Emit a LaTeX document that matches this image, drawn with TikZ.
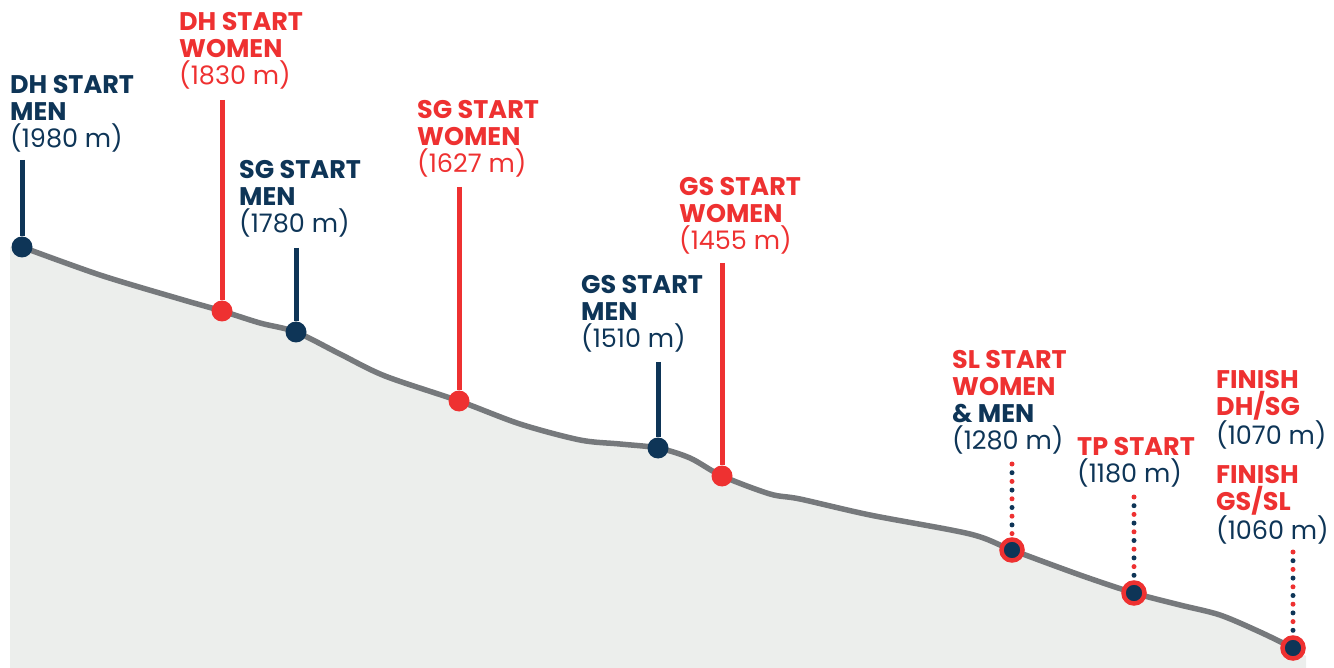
\documentclass[tikz,border=0pt]{standalone}
\usepackage{fontspec}
\setmainfont{Poppins}
\usetikzlibrary{calc}
\definecolor{navy}{HTML}{0E3557}
\definecolor{rred}{HTML}{EE3131}
\definecolor{terrain}{HTML}{ECEEEC}
\definecolor{ridge}{HTML}{76797C}
\tikzset{
  lab/.style={anchor=north west, inner sep=0pt, align=left, font=\fontsize{25.5}{27}\selectfont},
  navydot/.style={circle, fill=navy, minimum size=21pt, inner sep=0pt},
  reddot/.style={circle, fill=rred, minimum size=21pt, inner sep=0pt},
  ringdot/.style={circle, fill=navy, draw=rred, line width=4.5pt, minimum size=21pt, inner sep=0pt},
  navystem/.style={navy, line width=5pt},
  redstem/.style={rred, line width=5pt},
  reddots/.style={rred, line width=5pt, line cap=round, dash pattern=on 0pt off 17.4pt},
  navydots/.style={navy, line width=5pt, line cap=round, dash pattern=on 0pt off 17.4pt},
}
\begin{document}
\begin{tikzpicture}[x=1pt,y=-1pt]
\useasboundingbox (0,0) rectangle (1334,668);
\def\prof{(22,247) (100,275) (180,299) (222,311) (260,323) (296,332) (340,354) (385,376) (459,401) (520,424) (580,440) (620,444) (658,448) (690,458) (722,476) (770,494) (800,499) (870,515) (970,534) (1012,550) (1080,575) (1134,593) (1180,605) (1220,615) (1260,632) (1293,648)}
\fill[terrain] (10,668) -- (10,247) -- plot[smooth, tension=0.5] coordinates {\prof} -- (1306,656) -- (1306,668) -- cycle;
\draw[ridge, line width=5.5pt, line cap=round] plot[smooth, tension=0.5] coordinates {\prof};

% stems
\coordinate (dhmT) at (22,160);
\coordinate (dhwT) at (222,100);
\coordinate (sgmT) at (296,248);
\coordinate (sgwT) at (459,187);
\coordinate (gsmT) at (658,362);
\coordinate (gswT) at (722,263);
\coordinate (slT) at (1012,464);
\coordinate (slT2) at (1012,472.7);
\coordinate (tpT) at (1134,497);
\coordinate (tpT2) at (1134,505.7);
\coordinate (fiT) at (1293,552);
\coordinate (fiT2) at (1293,560.7);

\node[navydot] (dhm) at (22,247) {};
\node[reddot] (dhw) at (222,311) {};
\node[navydot] (sgm) at (296,332) {};
\node[reddot] (sgw) at (459,401) {};
\node[navydot] (gsm) at (658,448) {};
\node[reddot] (gsw) at (722,476) {};
\node[ringdot] (sl) at (1012,550) {};
\node[ringdot] (tp) at (1134,593) {};
\node[ringdot] (fi) at (1293,648) {};

\draw[navystem] (dhmT) -- (dhm.north);
\draw[redstem] (dhwT) -- (dhw.north);
\draw[navystem] (sgmT) -- (sgm.north);
\draw[redstem] (sgwT) -- (sgw.north);
\draw[navystem] (gsmT) -- (gsm.north);
\draw[redstem] (gswT) -- (gsw.north);
\draw[reddots] (slT) -- (sl.north);
\draw[navydots] (slT2) -- (sl.north);
\draw[reddots] (tpT) -- (tp.north);
\draw[navydots] (tpT2) -- (tp.north);
\draw[reddots] (fiT) -- (fi.north);
\draw[navydots] (fiT2) -- (fi.north);

% labels
\node[lab] (ldhm) at (10,75) {\color{navy}\textbf{DH START}\\\color{navy}\textbf{MEN}\\\color{navy}(1980 m)};
\node[lab] (ldhw) at (179,12) {\color{rred}\textbf{DH START}\\\color{rred}\textbf{WOMEN}\\\color{rred}(1830 m)};
\node[lab] (lsgm) at (239,160) {\color{navy}\textbf{SG START}\\\color{navy}\textbf{MEN}\\\color{navy}(1780 m)};
\node[lab] (lsgw) at (417,100) {\color{rred}\textbf{SG START}\\\color{rred}\textbf{WOMEN}\\\color{rred}(1627 m)};
\node[lab] (lgsw) at (679,177) {\color{rred}\textbf{GS START}\\\color{rred}\textbf{WOMEN}\\\color{rred}(1455 m)};
\node[lab] (lgsm) at (581,275) {\color{navy}\textbf{GS START}\\\color{navy}\textbf{MEN}\\\color{navy}(1510 m)};
\node[lab] (lsl) at (952,350) {\color{rred}\textbf{SL START}\\\color{rred}\textbf{WOMEN}\\\color{navy}\textbf{\& MEN}\\\color{navy}(1280 m)};
\node[lab] (ltp) at (1077,437) {\color{rred}\textbf{TP START}\\\color{navy}(1180 m)};
\node[lab] (lfa) at (1216,370) {\color{rred}\textbf{FINISH}\\\color{rred}\textbf{DH/SG}\\\color{navy}(1070 m)};
\node[lab] (lfb) at (1216,465) {\color{rred}\textbf{FINISH}\\\color{rred}\textbf{GS/SL}\\\color{navy}(1060 m)};
\end{tikzpicture}
\end{document}
